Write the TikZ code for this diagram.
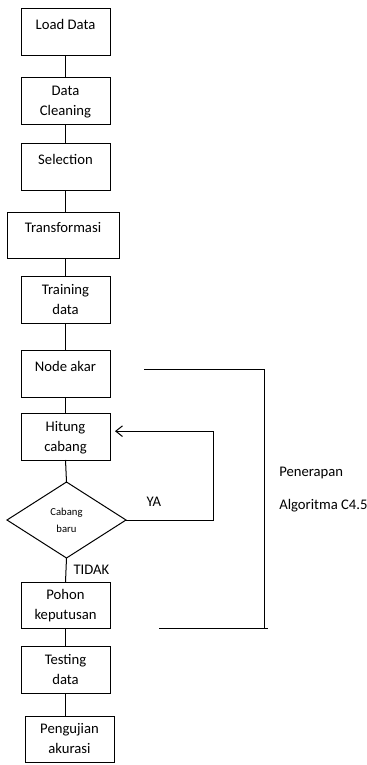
\documentclass[tikz,border=0pt]{standalone}
\usepackage{fontspec}
\setmainfont{Carlito}
\usetikzlibrary{positioning}
\usetikzlibrary{shapes.geometric}
\usetikzlibrary{calc}
\usetikzlibrary{arrows.meta}

\begin{document}
\begin{tikzpicture}[
	stepbox/.style={draw, line width=0.75pt, outer sep=0pt, minimum width=66.75pt, minimum height=35.25pt, inner sep=0pt, align=center, text height=26pt, text depth=3.6pt, font=\fontsize{11}{15}\selectfont},
	onelinebox/.style={stepbox, text height=8pt, text depth=11.2pt},
	testbox/.style={draw, diamond, line width=0.75pt, outer sep=0pt, minimum width=89.25pt, minimum height=57pt, inner sep=0pt, align=center, font=\fontsize{8}{12.75}\selectfont},
	flowline/.style={line width=0.75pt},
	plainlabel/.style={font=\fontsize{11}{15}\selectfont, inner sep=0pt}]
	\useasboundingbox (0,0) rectangle (275.25pt,-573.75pt);

	% Steps 1 to 5
	\node [onelinebox] at (49.125pt,-23.625pt) (1Load) {Load Data};
	\node [stepbox, below=16.5pt of 1Load] (2Clean) {Data\\Cleaning};
	\node [onelinebox, below=14.25pt of 2Clean] (3Sel) {Selection};
	\node [onelinebox, minimum width=84pt, minimum height=34.5pt, below=16.5pt of 3Sel, xshift=-1.875pt] (4Trans) {Transformasi};
	\node [stepbox, below=13.5pt of 4Trans, xshift=1.875pt] (5Train) {Training\\data};

	% Steps 6 to 9 (C4.5)
	\node [onelinebox, below=20.25pt of 5Train] (6Akar) {Node akar};
	\node [stepbox, below=12pt of 6Akar] (7Hitung) {Hitung\\cabang};
	\node [testbox, below=16.5pt of 7Hitung, xshift=0.75pt] (8Baru) {Cabang\\baru};
	\node [stepbox, minimum height=34.5pt, below=18pt of 8Baru, xshift=-0.75pt] (9Pohon) {Pohon\\keputusan};

	% Steps 10 and 11
	\node [stepbox, below=13.5pt of 9Pohon] (10Test) {Testing\\data};
	\node [stepbox, minimum height=34.5pt, below=17.25pt of 10Test, xshift=3pt] (11Uji) {Pengujian\\akurasi};

	% Bracket and its label
	\coordinate (brTopL) at (108pt,-276.75pt);
	\coordinate (brTopR) at (198pt,-276.75pt);
	\coordinate (brBotR) at (201pt,-471pt);
	\coordinate (brBotL) at (119.25pt,-471pt);
	\coordinate (loopR) at (159.75pt,0pt);
	\node [plainlabel, anchor=west, align=left] at (209.25pt,-367.125pt) (penerapan) {Penerapan\\[9.75pt]Algoritma C4.5};

	% Connections
	\draw [flowline] (1Load.south) -- (2Clean.north);
	\draw [flowline] (2Clean.south) -- (3Sel.north);
	\draw [flowline] (3Sel.south) -- (3Sel.south |- 4Trans.north);
	\draw [flowline] (4Trans.south -| 5Train.north) -- (5Train.north);
	\draw [flowline] (5Train.south) -- (6Akar.north);
	\draw [flowline] (6Akar.south) -- (7Hitung.north);
	\draw [flowline] (7Hitung.south) -- (8Baru.north);
	\draw [flowline] (8Baru.south) -- node [plainlabel, right=5.25pt] (tidak) {TIDAK} (9Pohon.north);
	\draw [flowline, -{Straight Barb[length=5pt,width=8pt]}, shorten >=3.75pt] (8Baru.east) -- node [plainlabel, above=10pt, pos=0.32] (ya) {YA} (8Baru.east -| loopR) |- ($(7Hitung.east)+(0,4pt)$);
	\draw [flowline] (9Pohon.south) -- (10Test.north);
	\draw [flowline] (10Test.south) -- (10Test.south |- 11Uji.north);
	\draw [flowline] (brTopL) -- (brTopR) -- (brTopR |- brBotR);
	\draw [flowline] (brBotL) -- (brBotR);
\end{tikzpicture}
\end{document}
